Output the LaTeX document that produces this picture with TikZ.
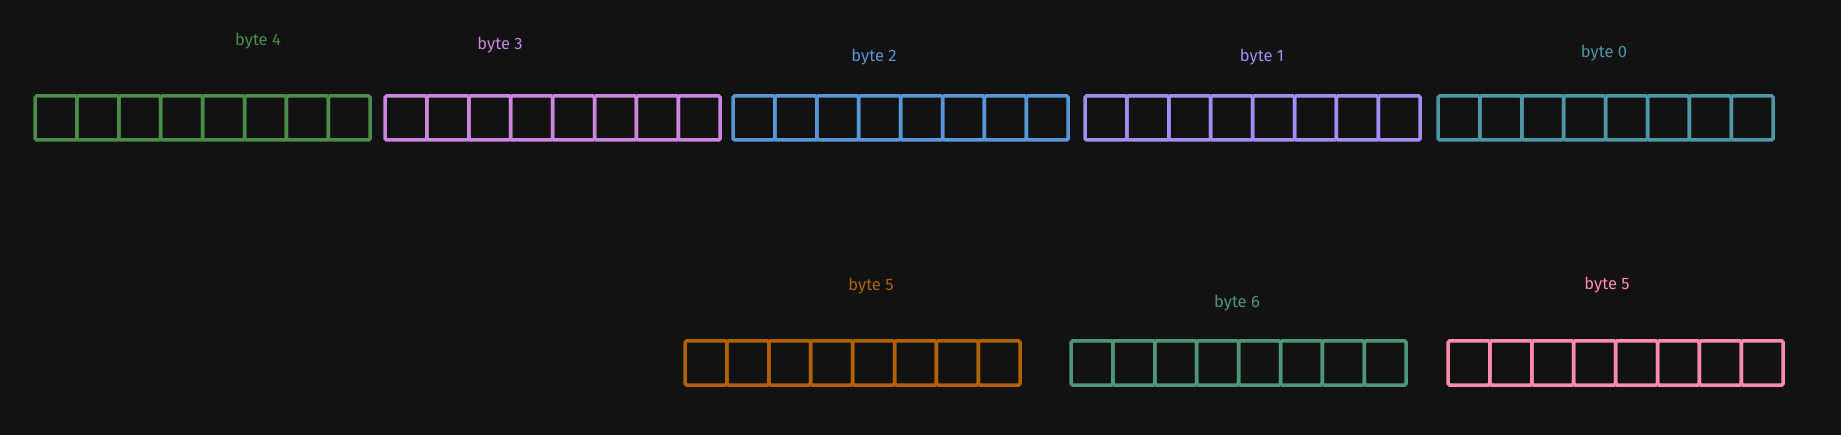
\documentclass[tikz,border=0pt]{standalone}
\usepackage{fontspec}
\setmainfont{Fira Sans}
\definecolor{bg}{HTML}{121212}
\definecolor{cA}{HTML}{4A8C48}
\definecolor{cB}{HTML}{CC85E0}
\definecolor{cC}{HTML}{5896D8}
\definecolor{cD}{HTML}{A58CF5}
\definecolor{cE}{HTML}{4E96A5}
\definecolor{cF}{HTML}{B06200}
\definecolor{cG}{HTML}{4D9676}
\definecolor{cH}{HTML}{FF8CAF}
\tikzset{
  cell/.style={draw, rectangle, line width=3.5pt, minimum width=41.9pt, minimum height=44pt,
    inner sep=0pt, outer sep=0pt, anchor=north west, rounded corners=1.5pt},
  bytelabel/.style={font=\fontsize{16.5}{18}\selectfont, inner sep=0pt},
}
\begin{document}
\begin{tikzpicture}[x=1pt,y=-1pt]
\path[fill=bg] (0,0) rectangle (1841,435);
\useasboundingbox (0,0) rectangle (1841,435);
\foreach \g/\xo/\yo/\col/\txt/\lx/\ly in {
  a/35/96/cA/byte 4/258/41,
  b/385/96/cB/byte 3/500/45,
  c/733/96/cC/byte 2/874/57,
  d/1085/96/cD/byte 1/1262/57,
  e/1438/96/cE/byte 0/1604/53,
  f/685/341/cF/byte 5/871/286,
  g/1071/341/cG/byte 6/1237/303,
  h/1448/341/cH/byte 5/1607/285}
{
  \foreach \i in {0,...,7}{
    \node[cell, draw=\col] (\g\i) at (\xo+\i*41.9,\yo) {};
  }
  \node[bytelabel, text=\col] (\g lab) at (\lx,\ly) {\txt};
}
\end{tikzpicture}
\end{document}
